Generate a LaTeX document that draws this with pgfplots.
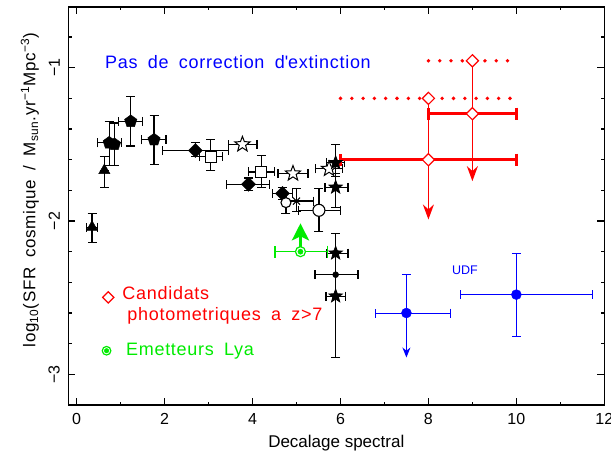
\documentclass[border=0pt]{standalone}
\usepackage{fontspec}
\setmainfont{Liberation Sans}
\newfontfamily\lsfont{Liberation Sans}[LetterSpace=4,WordSpace=1.8]
\usepackage{pgfplots}
\pgfplotsset{compat=1.18}
\usetikzlibrary{arrows.meta}
\definecolor{rred}{RGB}{255,0,0}
\definecolor{bblue}{RGB}{0,0,255}
\definecolor{ggreen}{RGB}{0,235,0}
\pgfdeclareplotmark{pstar}{%
  \pgfpathmoveto{\pgfpointpolar{90}{\pgfplotmarksize}}%
  \pgfpathlineto{\pgfpointpolar{126}{0.42\pgfplotmarksize}}%
  \pgfpathlineto{\pgfpointpolar{162}{\pgfplotmarksize}}%
  \pgfpathlineto{\pgfpointpolar{198}{0.42\pgfplotmarksize}}%
  \pgfpathlineto{\pgfpointpolar{234}{\pgfplotmarksize}}%
  \pgfpathlineto{\pgfpointpolar{270}{0.42\pgfplotmarksize}}%
  \pgfpathlineto{\pgfpointpolar{306}{\pgfplotmarksize}}%
  \pgfpathlineto{\pgfpointpolar{342}{0.42\pgfplotmarksize}}%
  \pgfpathlineto{\pgfpointpolar{18}{\pgfplotmarksize}}%
  \pgfpathlineto{\pgfpointpolar{54}{0.42\pgfplotmarksize}}%
  \pgfpathclose
  \pgfusepathqfillstroke
}
\pgfplotsset{
  eb/.style={error bars/x dir=both, error bars/x explicit, error bars/y dir=both, error bars/y explicit,
    error bars/error bar style={line width=1.2pt},
    error bars/error mark options={rotate=90, mark size=4.5pt, line width=1.2pt}},
  tb/.style={table/x=x, table/y=y, table/x error minus=exm, table/x error plus=exp,
    table/y error minus=eym, table/y error plus=eyp},
}
\begin{document}
\begin{tikzpicture}
\begin{axis}[
  scale only axis, width=536pt, height=398pt,
  xmin=-0.19, xmax=12, ymin=-3.2, ymax=-0.604,
  axis line style={line width=1.3pt},
  every tick/.style={line width=1.2pt, black},
  tick align=inside,
  major tick length=7pt, minor tick length=3.5pt,
  xtick={0,2,...,12}, xticklabels={0,2,4,6,8,10,12},
  minor xtick={1,3,5,7,9,11},
  ytick={-3,-2,-1}, yticklabels={−3,−2,−1},
  minor ytick={-2.8,-2.6,-2.4,-2.2,-1.8,-1.6,-1.4,-1.2,-0.8},
  tick label style={font=\fontsize{16}{18}\selectfont},
  yticklabel style={rotate=90, anchor=south},
  yticklabel shift=5pt,
  xticklabel shift=5pt,
  every axis x label/.style={at={(axis description cs:0.5,-0.108)}, anchor=base},
  every axis y label/.style={at={(axis description cs:-0.0715,0.54)}, rotate=90, anchor=center},
  xlabel={\fontsize{17}{19}\selectfont Decalage spectral},
  ylabel={\lsfont\fontsize{17}{19}\selectfont log\textsubscript{10}(SFR cosmique / M\textsubscript{sun}.yr\textsuperscript{−1}Mpc\textsuperscript{−3})},
  clip=false,
]
% ---- black points ----
\addplot[black, only marks, mark=triangle*, mark size=6.5pt, eb, tb] table {
x y exm exp eym eyp
0.35 -2.04 0.13 0.13 0.10 0.09
0.63 -1.67 0 0 0.11 0.09
};
\addplot[black, only marks, mark=pentagon*, mark size=6.5pt, eb, tb] table {
x y exm exp eym eyp
0.86 -1.50 0 0 0.14 0.14
0.74 -1.49 0.26 0.28 0.15 0.14
1.23 -1.35 0.28 0.27 0.16 0.16
1.76 -1.47 0.28 0.27 0.16 0.16
};
\addplot[black, only marks, mark=square*, mark options={fill=white, line width=1.1pt}, mark size=5.5pt, eb, tb] table {
x y exm exp eym eyp
3.05 -1.58 0.25 0.27 0.09 0.11
4.20 -1.68 0.30 0.30 0.10 0.11
};
\addplot[black, only marks, mark=square*, mark options={rotate=45}, mark size=5pt, eb, tb] table {
x y exm exp eym eyp
2.70 -1.54 0.75 0.75 0.04 0.05
3.91 -1.76 0.50 0.47 0.04 0.04
4.68 -1.82 0.22 0.22 0.04 0.04
};
\addplot[black, only marks, mark=x, mark options={line width=1pt}, mark size=5pt, eb, tb] table {
x y exm exp eym eyp
5.00 -1.87 0.30 0.38 0.07 0.08
};
\addplot[black, only marks, mark=*, mark options={fill=white, line width=1.1pt}, mark size=5pt, eb, tb] table {
x y exm exp eym eyp
4.76 -1.88 0 0 0.07 0.06
};
\addplot[black, only marks, mark=*, mark options={fill=white, line width=1.1pt}, mark size=6pt, eb, tb] table {
x y exm exp eym eyp
5.51 -1.93 0.47 0.49 0.14 0.14
};
% open stars
\addplot[black, only marks, mark=pstar, mark options={fill=white, line width=1pt}, mark size=8pt, eb, tb] table {
x y exm exp eym eyp
3.77 -1.50 0.32 0.33 0 0
4.92 -1.69 0.34 0.34 0 0
5.74 -1.66 0.30 0.30 0 0
};
\addplot[black, only marks, mark=*, mark size=3pt, eb, tb] table {
x y exm exp eym eyp
5.89 -2.35 0.47 0.51 0.54 0.27
};
% filled stars
\addplot[black, only marks, mark=pstar, mark options={fill=black, line width=0.8pt}, mark size=7pt, eb, tb] table {
x y exm exp eym eyp
5.89 -1.62 0.20 0.20 0.09 0.12
5.89 -1.78 0.24 0.28 0.13 0.09
5.89 -2.21 0.20 0.28 0 0.13
5.89 -2.49 0.22 0.22 0 0
};
% ---- green ----
\addplot[ggreen, line width=3.5pt, -{Stealth[length=17pt,width=17pt,inset=4pt]}] coordinates {(5.09,-2.20) (5.09,-2.015)};
\addplot[ggreen, only marks, mark=*, mark options={fill=white, line width=1.2pt}, mark size=5pt,
  error bars/.cd, x dir=both, x explicit, error bar style={line width=1.3pt},
  error mark options={rotate=90, mark size=6pt, line width=1.3pt}]
  table[x=x, y=y, x error minus=exm, x error plus=exp] {
x y exm exp
5.09 -2.20 0.58 0.61
};
\addplot[ggreen, only marks, mark=*, mark size=2.6pt] coordinates {(5.09,-2.20)};
% ---- red ----
\addplot[rred, line width=3.8pt, dash pattern=on 0pt off 11.3pt, line cap=round] coordinates {(6,-1.20) (10,-1.20)};
\addplot[rred, line width=3.8pt, dash pattern=on 0pt off 11.3pt, line cap=round] coordinates {(8,-0.955) (10,-0.955)};
\addplot[rred, line width=1.5pt, -{Stealth[length=15pt,width=11pt]}] coordinates {(8,-1.20) (8,-1.99)};
\addplot[rred, line width=1.5pt, -{Stealth[length=15pt,width=11pt]}] coordinates {(9,-0.955) (9,-1.74)};
\addplot[rred, only marks, mark=square*, mark options={rotate=45, fill=white, line width=1.2pt}, mark size=4.3pt,
  error bars/.cd, x dir=both, x explicit, error bar style={line width=3pt},
  error mark options={rotate=90, mark size=6pt, line width=3pt}]
  table[x=x, y=y, x error minus=exm, x error plus=exp] {
x y exm exp
8 -1.60 2 2
9 -1.30 1 1
};
\addplot[rred, only marks, mark=square*, mark options={rotate=45, fill=white, line width=1.2pt}, mark size=4.3pt] coordinates {(8,-1.20) (9,-0.955)};
% ---- blue ----
\addplot[bblue, line width=1pt, -{Stealth[length=10pt,width=8pt]}] coordinates {(7.5,-2.60) (7.5,-2.89)};
\addplot[bblue, only marks, mark=*, mark size=5pt,
  error bars/.cd, x dir=both, x explicit, y dir=both, y explicit, error bar style={line width=1pt},
  error mark options={rotate=90, mark size=4.5pt, line width=1pt}]
  table[x=x, y=y, x error minus=exm, x error plus=exp, y error minus=eym, y error plus=eyp] {
x y exm exp eym eyp
7.5 -2.60 0.70 1.00 0 0.25
10.0 -2.48 1.27 1.74 0.27 0.27
};
% ---- legend-like markers ----
\addplot[rred, only marks, mark=square*, mark options={rotate=45, fill=white, line width=1.2pt}, mark size=4pt] coordinates {(0.72,-2.498)};
\addplot[ggreen, only marks, mark=*, mark options={fill=white, line width=1.2pt}, mark size=4.3pt] coordinates {(0.68,-2.846)};
\addplot[ggreen, only marks, mark=*, mark size=2.3pt] coordinates {(0.68,-2.846)};
% ---- texts ----
\node[anchor=base west, text=bblue, inner sep=0pt, font=\lsfont\fontsize{18}{20}\selectfont] at (axis cs:0.645,-1.004) {Pas de correction d\textquotesingle extinction};
\node[anchor=base west, text=rred, inner sep=0pt, font=\lsfont\fontsize{18}{20}\selectfont] at (axis cs:1.036,-2.511) {Candidats};
\node[anchor=base west, text=rred, inner sep=0pt, font=\lsfont\fontsize{18}{20}\selectfont] at (axis cs:1.15,-2.650) {photometriques a z>7};
\node[anchor=base west, text=ggreen, inner sep=0pt, font=\lsfont\fontsize{18}{20}\selectfont] at (axis cs:1.12,-2.879) {Emetteurs Lya};
\node[anchor=center, text=bblue, inner sep=0pt, font=\fontsize{12.5}{14}\selectfont] at (axis cs:8.83,-2.324) {UDF};
\end{axis}
\pgfresetboundingbox
\path[use as bounding box] ([shift={(-68.3pt,-56pt)}]current axis.south west) rectangle ([shift={(6.7pt,7pt)}]current axis.north east);
\end{tikzpicture}
\end{document}
